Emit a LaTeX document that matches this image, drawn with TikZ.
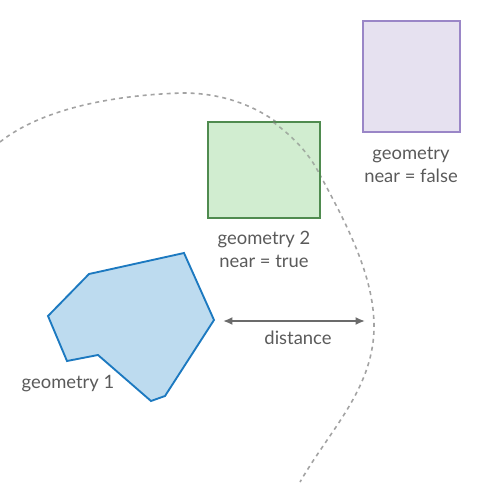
\documentclass[tikz,border=0pt]{standalone}
\usepackage{fontspec}
\setmainfont{Lato}
\usetikzlibrary{arrows.meta}
\definecolor{txt}{HTML}{5A5A5A}
\definecolor{bluef}{HTML}{BDDBEF}
\definecolor{blued}{HTML}{1C79C0}
\definecolor{greenf}{HTML}{D1EDD0}
\definecolor{greend}{HTML}{4F8B4F}
\definecolor{purpf}{HTML}{E6E1F0}
\definecolor{purpd}{HTML}{9A86C7}
\definecolor{dashc}{HTML}{A3A3A3}
\definecolor{arrc}{HTML}{6B6B6B}
\tikzset{
  lbl/.style={text=txt, font=\fontsize{13.8pt}{16pt}\selectfont, align=center, inner sep=0pt},
  geom/.style={line width=1.4pt, line join=miter},
}
\begin{document}
\begin{tikzpicture}[x=0.75pt,y=-0.75pt]
\useasboundingbox (0,0) rectangle (481,485);
% dashed boundary
\draw[dashc, line width=1.2pt, dash pattern=on 3pt off 3pt]
  (0,142) .. controls (40,110) and (110,95) .. (183,93)
  .. controls (250,93) and (300,130) .. (320,175)
  .. controls (350,230) and (375,280) .. (374,330)
  .. controls (372,390) and (330,430) .. (300,482);
% geometry 1
\draw[geom, draw=blued, fill=bluef]
  (184,253) -- (89,274) -- (48,316) -- (67,361) -- (98,355) -- (151,401) -- (165,396) -- (214,320) -- cycle;
% geometry 2
\draw[geom, draw=greend, fill=greenf] (208,122) rectangle (320,218);
% geometry purple
\draw[geom, draw=purpd, fill=purpf] (363,21) rectangle (460,132);
% dashed boundary over the green box
\draw[dashc!80!black, line width=1.2pt, dash pattern=on 3pt off 3pt, opacity=0.6]
  (273,122) .. controls (295,138) and (310,155) .. (320,175);
% labels
\node[lbl] (g2a) at (264,240) {geometry 2};
\node[lbl] (g2b) at (264,261) {near = true};
\node[lbl] (g1) at (68,384) {geometry 1};
\node[lbl] (g3a) at (411,155) {geometry};
\node[lbl] (g3b) at (411,176) {near = false};
\coordinate (a1) at (223,321);
\coordinate (a2) at (365,321);
\draw[arrc, line width=1.6pt, {Latex[length=7pt,width=6pt]}-{Latex[length=7pt,width=6pt]}] (a1) -- (a2);
\node[lbl] (dist) at (298,338) {distance};
\end{tikzpicture}
\end{document}
